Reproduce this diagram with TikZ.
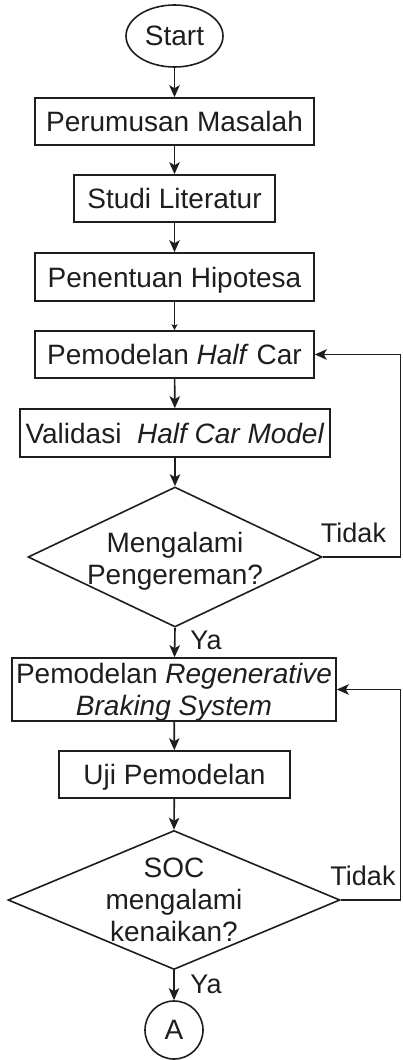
\documentclass[tikz,border=0pt]{standalone}
\usepackage{fontspec}
\setmainfont{Liberation Sans}
\usetikzlibrary{shapes.geometric,arrows.meta}
\definecolor{ink}{HTML}{1E1E1E}
\begin{document}
\begin{tikzpicture}[x=1pt,y=-1pt,
  every node/.style={font=\fontsize{28}{32}\selectfont, text=ink},
  box/.style={draw=ink, line width=1.6pt, rectangle, inner sep=0pt, minimum height=47pt, align=center},
  oneline/.style={text height=20pt, text depth=0pt},
  term/.style={draw=ink, line width=1.6pt, ellipse, inner sep=0pt, minimum width=97pt, minimum height=62pt},
  decision/.style={draw=ink, line width=1.6pt, diamond, inner sep=0pt},
  qtext/.style={align=center, inner sep=0pt},
  conn/.style={draw=ink, line width=1.6pt, circle, inner sep=0pt, minimum size=58pt},
  arr/.style={draw=ink, line width=1.6pt, -{Stealth[length=12pt,width=10.5pt,inset=3pt]}},
  thin arr/.style={draw=ink, line width=1.3pt, -{Stealth[length=6pt,width=6pt,inset=1.5pt]}},
  lbl/.style={anchor=base, inner sep=0pt, font=\fontsize{27}{32}\selectfont},
]
\useasboundingbox (0,0) rectangle (402,1060);

% main column
\node[term] (start) at (174.5,36) {Start};
\node[box, oneline, minimum width=279pt] (b1) at (174.5,121.5) {Perumusan Masalah};
\node[box, oneline, minimum width=201pt] (b2) at (174.5,198.5) {Studi Literatur};
\node[box, oneline, minimum width=279pt, minimum height=48pt] (b3) at (174.5,277) {Penentuan Hipotesa};
\node[box, oneline, minimum width=279pt] (b4) at (174.5,354.5) {Pemodelan \textit{Half} Car};
\node[box, oneline, minimum width=310pt, minimum height=48pt] (b5) at (175,433) {Validasi\ \ \textit{Half Car Model}};
\node[decision, minimum width=294pt, minimum height=140pt] (d1) at (175,557) {};
\node[qtext] (d1t) at (175,561.5) {Mengalami\\Pengereman?};
\node[box, text depth=0pt, minimum width=324pt, minimum height=63pt] (b6) at (174,689.5) {Pemodelan \textit{Regenerative}\\\textit{Braking System}};
\node[box, oneline, minimum width=231pt] (b7) at (174.5,774.5) {Uji Pemodelan};
\node[decision, minimum width=332pt, minimum height=139pt] (d2) at (174,900) {};
\node[qtext] (d2t) at (174,900) {SOC\\mengalami\\kenaikan?};
\node[conn] (ca) at (174,1030) {A};

% feedback corners on the right edge
\coordinate (r1) at (400.5,557);
\coordinate (r2) at (400.5,900);

% connectors
\draw[arr] (start) -- (b1);
\draw[arr] (b1) -- (b2);
\draw[arr] (b2) -- (b3);
\draw[thin arr] (b3) -- (b4);
\draw[arr] (b4) -- (b5);
\draw[arr] (b5) -- (d1.north);
\draw[arr] (d1.south) -- (b6);
\draw[arr] (d1.east) -- (r1) |- (b4.east);
\draw[arr] (b6) -- (b7);
\draw[arr] (b7) -- (d2.north);
\draw[arr] (d2.east) -- (r2) |- (b6.east);
\draw[arr] (d2.south) -- (ca);

% branch labels
\node[lbl] (no1) at (353.5,542) {Tidak};
\node[lbl] (yes1) at (206,649) {Ya};
\node[lbl] (no2) at (363,885) {Tidak};
\node[lbl] (yes2) at (206,993) {Ya};
\end{tikzpicture}
\end{document}
